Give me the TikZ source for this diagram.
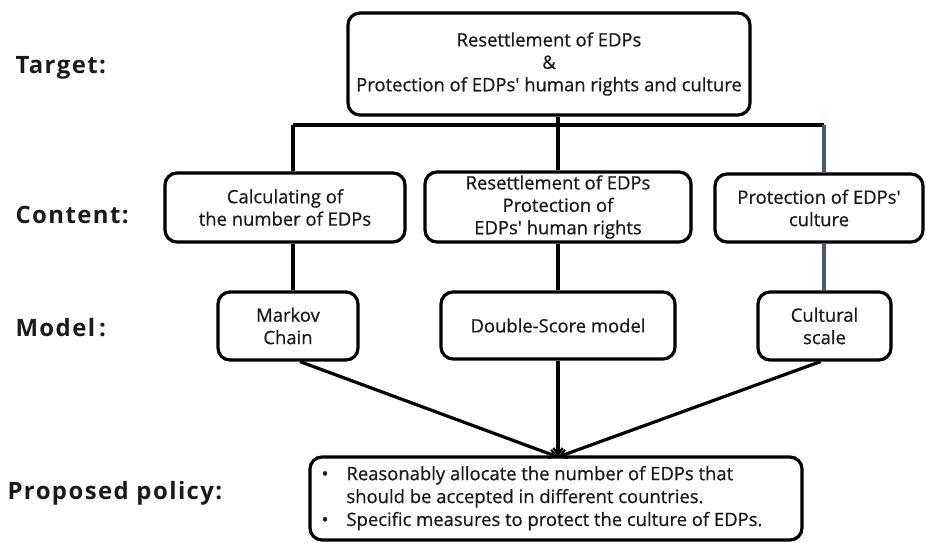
\documentclass[tikz,border=0pt]{standalone}
\usepackage{fontspec}
\setmainfont{Open Sans}
\newfontfamily\boxfont{Open Sans}[BoldFont={Open Sans}, BoldFeatures={FakeBold=0.7}]
\newfontfamily\lblfont{Open Sans}[LetterSpace=6]
\usetikzlibrary{arrows.meta,calc}
\definecolor{slate}{HTML}{4A5A70}
\definecolor{ink}{HTML}{1A1A1A}
\tikzset{
  box/.style={draw=black, line width=3.2bp, rounded corners=12bp, align=center, inner sep=0pt,
    text=ink, font=\boxfont\bfseries\fontsize{18.5}{22.5}\selectfont},
  lbl/.style={anchor=west, text=ink, font=\lblfont\fontsize{24}{26}\selectfont\bfseries},
  conn/.style={line width=3.2bp, draw=black},
  arr/.style={conn, -{Straight Barb[length=7bp,width=9bp,line width=2.2bp]}},
}
\begin{document}
\begin{tikzpicture}[x=1bp,y=-1bp]
\useasboundingbox (0,0) rectangle (927,543);
% labels
\node[lbl] (lt) at (12,68) {Target:};
\node[lbl] (lc) at (12,215) {Content:};
\node[lbl] (lm) at (12,328) {Model\,:};
\node[lbl] (lp) at (4,493) {Proposed policy:};
% boxes
\node[box, minimum width=402bp, minimum height=102bp] (top) at (549,64)
  {Resettlement of EDPs\\\&\\Protection of EDPs' human rights and culture};
\node[box, minimum width=240bp, minimum height=69bp] (calc) at (285,207.5)
  {Calculating of\\the number of EDPs};
\node[box, minimum width=266bp, minimum height=70bp] (mid) at (558,207)
  {Resettlement of EDPs\\Protection of\\EDPs' human rights};
\node[box, minimum width=208bp, minimum height=68bp] (prot) at (819,208)
  {Protection of EDPs'\\culture};
\node[box, minimum width=140bp, minimum height=68bp] (markov) at (288,326)
  {Markov\\Chain};
\node[box, minimum width=234bp, minimum height=67bp] (ds) at (558,325.5)
  {Double-Score model};
\node[box, minimum width=133bp, minimum height=68bp] (cult) at (824.5,326)
  {Cultural\\scale};
\node[box, minimum width=492bp, minimum height=83bp, font=\boxfont\bfseries\fontsize{18.5}{23}\selectfont] (pol) at (556,498.5)
  {\begin{tabular}{@{}l@{\hspace{18bp}}l@{}}
   • & Reasonably allocate the number of EDPs that\\
     & should be accepted in different countries.\\
   • & Specific measures to protect the culture of EDPs.
   \end{tabular}\hspace{28bp}};
% connectors
\coordinate (jl) at (293,125);
\coordinate (jm) at (558,125);
\coordinate (jr) at (824,125);
\coordinate (tip) at (558,457);
\draw[conn] (top.south -| jm) -- (mid.north);
\draw[conn] (jl) -- (jr);
\draw[conn] (jl) -- (jl |- calc.north);
\draw[conn] (jl |- calc.south) -- (jl |- markov.north);
\draw[conn] (mid.south) -- (ds.north);
\draw[conn, draw=slate] (jr) -- (jr |- prot.north);
\draw[conn, draw=slate] (jr |- prot.south) -- (jr |- cult.north);
\draw[arr] ($(markov.south)+(12,0)$) -- (tip);
\draw[arr] (ds.south) -- (tip);
\draw[arr] ($(cult.south)+(-4,0)$) -- (tip);
\end{tikzpicture}
\end{document}
